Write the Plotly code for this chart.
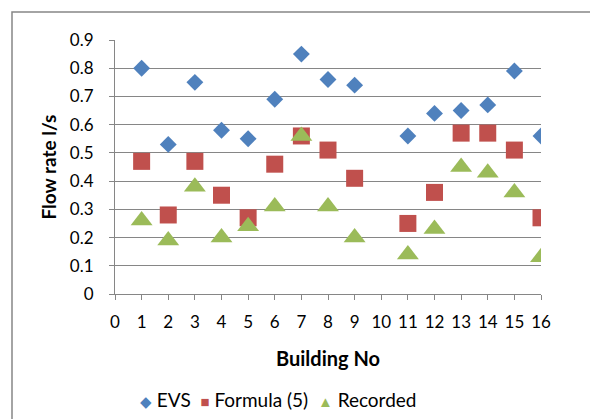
import plotly.graph_objects as go

buildings = [1, 2, 3, 4, 5, 6, 7, 8, 9, 11, 12, 13, 14, 15, 16]
evs = [0.80, 0.53, 0.75, 0.58, 0.55, 0.69, 0.85, 0.76, 0.74, 0.56, 0.64, 0.65, 0.67, 0.79, 0.56]
formula5 = [0.47, 0.28, 0.47, 0.35, 0.27, 0.46, 0.56, 0.51, 0.41, 0.25, 0.36, 0.57, 0.57, 0.51, 0.27]
recorded = [0.26, 0.19, 0.38, 0.20, 0.24, 0.31, 0.56, 0.31, 0.20, 0.14, 0.23, 0.45, 0.43, 0.36, 0.13]
series_names = ["EVS", "Formula (5)", "Recorded"]
series_colors = ["#4F81BD", "#C0504D", "#9BBB59"]
series_glyphs = ["◆", "■", "▲"]
x_ticks = list(range(0, 17))
y_ticks = [0, 0.1, 0.2, 0.3, 0.4, 0.5, 0.6, 0.7, 0.8, 0.9]

FONT = "Lato, Carlito, Calibri, sans-serif"
fig = go.Figure()
fig.add_trace(go.Scatter(x=buildings, y=evs, mode="markers", name=series_names[0],
                         marker=dict(symbol="diamond", size=13, color=series_colors[0],
                                     line=dict(width=0))))
fig.add_trace(go.Scatter(x=buildings, y=formula5, mode="markers", name=series_names[1],
                         marker=dict(symbol="square", size=17, color=series_colors[1],
                                     line=dict(width=0))))
fig.add_trace(go.Scatter(x=buildings, y=recorded, mode="markers", name=series_names[2],
                         marker=dict(symbol="triangle-up", size=19, color=series_colors[2],
                                     line=dict(width=0))))

L, R, T, B = 115, 49, 40, 125
W, H = 590, 419
pw, ph = W - L - R, H - T - B

fig.update_layout(
    width=W, height=H,
    margin=dict(l=L, r=R, t=T, b=B, autoexpand=False),
    paper_bgcolor="white", plot_bgcolor="white",
    font=dict(family=FONT, size=17, color="#000000"),
    showlegend=False,
    xaxis=dict(range=[0, 16], tickvals=x_ticks, ticktext=[str(v) for v in x_ticks],
               showgrid=False, zeroline=False, showline=True, linecolor="#868686",
               linewidth=1, ticks="outside", ticklen=5, tickcolor="#868686",
               tickfont=dict(size=17), ticklabelstandoff=8, automargin=False,
               title=dict(text="<b>Building No</b>", font=dict(size=20), standoff=20)),
    yaxis=dict(range=[0, 0.9], tickvals=y_ticks,
               ticktext=["0"] + ["%.1f" % v for v in y_ticks[1:]],
               showgrid=True, gridcolor="#868686", gridwidth=1,
               zeroline=False, showline=True, linecolor="#868686", linewidth=1,
               ticks="outside", ticklen=5, tickcolor="#868686",
               tickfont=dict(size=17), ticklabelstandoff=12, automargin=False,
               title=dict(text="<b>Flow rate l/s</b>", font=dict(size=19), standoff=8)),
)

# legend row (built from the series names / colours)
parts = []
for g, c, n in zip(series_glyphs, series_colors, series_names):
    parts.append('<span style="color:%s;font-size:15px">%s</span> %s' % (c, g, n))
fig.add_annotation(text="  ".join(parts), xref="paper", yref="paper",
                   x=(277.5 - L) / pw, y=-(399 - (T + ph)) / ph,
                   xanchor="center", yanchor="middle", showarrow=False,
                   font=dict(size=19, color="#000000"))

# outer chart frame
fig.add_shape(type="rect", xref="paper", yref="paper",
              x0=(12 - L) / pw, x1=(W + 10 - L) / pw,
              y0=-(H + 10 - T - ph) / ph, y1=(T + ph - 12) / ph,
              line=dict(color="#868686", width=1.5), fillcolor="rgba(0,0,0,0)", layer="below")

fig.write_html("out.html", config={"displayModeBar": False},
               post_script="document.body.style.margin='0px';document.body.style.overflow='hidden';")
